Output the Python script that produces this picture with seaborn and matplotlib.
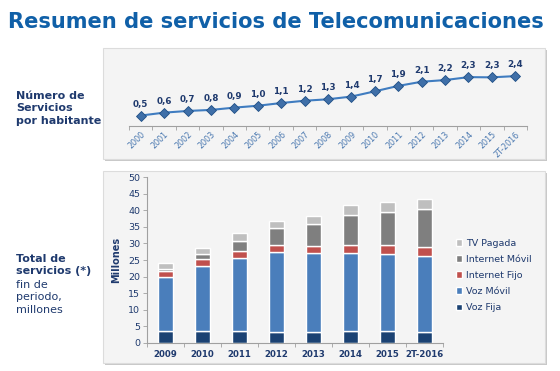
import matplotlib
matplotlib.use("Agg")
import matplotlib.pyplot as plt
from matplotlib.patches import Rectangle
import seaborn as sns
import pandas as pd
import numpy as np

# ---- data ----
line_years = ["2000", "2001", "2002", "2003", "2004", "2005", "2006", "2007", "2008",
              "2009", "2010", "2011", "2012", "2013", "2014", "2015", "2T-2016"]
line_values = [0.50, 0.64, 0.72, 0.77, 0.88, 0.97, 1.10, 1.21, 1.28, 1.41, 1.66,
               1.92, 2.12, 2.20, 2.34, 2.33, 2.39]

bar_years = ["2009", "2010", "2011", "2012", "2013", "2014", "2015", "2T-2016"]
voz_fija = [3.6, 3.6, 3.4, 3.3, 3.3, 3.4, 3.4, 3.3]
voz_movil = [16.4, 19.7, 22.3, 24.0, 23.7, 23.8, 23.3, 22.9]
internet_fijo = [1.7, 1.9, 2.0, 2.2, 2.3, 2.4, 2.8, 2.8]
internet_movil = [0.7, 1.5, 3.0, 5.1, 6.5, 9.0, 10.0, 11.4]
tv_pagada = [1.7, 2.0, 2.4, 2.2, 2.5, 3.0, 3.1, 3.1]

series_names = ["Voz Fija", "Voz Móvil", "Internet Fijo", "Internet Móvil", "TV Pagada"]
series_values = [voz_fija, voz_movil, internet_fijo, internet_movil, tv_pagada]
series_colors = ["#1b4273", "#4a7ebb", "#c0504d", "#7f7f7f", "#bfbfbf"]

sns.set_theme(style="white")
plt.rcParams['font.family'] = ['DejaVu Sans']

W, H = 560, 371
fig = plt.figure(figsize=(W / 100, H / 100), dpi=100)
fig.patch.set_facecolor("white")

def fx(px):
    return px / W

def fy(py):
    return 1 - py / H

navy = "#1f3a6e"
tick_blue = "#1f3a6e"

# Panels (shadow + box)
for (x0, y0, x1, y1) in [(103, 48, 545, 159), (103, 171, 545, 363)]:
    fig.patches.append(Rectangle((fx(x0 + 2), fy(y1 + 2)), fx(x1 - x0), (y1 - y0) / H,
                                 transform=fig.transFigure, facecolor="#c8c8c8",
                                 edgecolor="none", zorder=-3))
    fig.patches.append(Rectangle((fx(x0), fy(y1)), fx(x1 - x0), (y1 - y0) / H,
                                 transform=fig.transFigure, facecolor="#f4f4f4",
                                 edgecolor="#dcdcdc", linewidth=0.8, zorder=-2))

# Title
fig.text(fx(8), fy(22), "Resumen de servicios de Telecomunicaciones", fontsize=15.1,
         fontweight="bold", color="#1060a8", va="center", ha="left")

# Left labels
fig.text(fx(16), fy(91), "Número de\nServicios\npor habitante", fontsize=8,
         fontweight="bold", color=navy, va="top", ha="left", linespacing=1.3)
fig.text(fx(16), fy(254), "Total de\nservicios (*)", fontsize=8,
         fontweight="bold", color=navy, va="top", ha="left", linespacing=1.3)
fig.text(fx(16), fy(280), "fin de\nperiodo,\nmillones", fontsize=8,
         color=navy, va="top", ha="left", linespacing=1.3)

# ---- line chart ----
ax1 = fig.add_axes([fx(129), fy(126), fx(527 - 129), (126 - 55) / H])
ax1.set_facecolor("none")
df_line = pd.DataFrame({"year": line_years, "value": line_values})
df_line["x"] = np.arange(len(line_years))
sns.lineplot(data=df_line, x="x", y="value", ax=ax1, color="#3f7cc0", linewidth=1.5,
             marker="D", markersize=5, markerfacecolor="#3f6fa8",
             markeredgecolor="#1f4f86", markeredgewidth=0.6)
for xi, v in zip(df_line["x"], line_values):
    ax1.annotate(f"{v:.1f}".replace(".", ","), (xi, v), xytext=(0, 5),
                 textcoords="offset points", ha="center", va="bottom",
                 fontsize=6.3, fontweight="bold", color="#1f3a6e")
ax1.set_xlim(-0.5, len(line_years) - 0.5)
ax1.set_ylim(0, 3.4)
ax1.set_xticks(df_line["x"])
ax1.set_xticklabels(line_years, rotation=45, ha="right", rotation_mode="anchor",
                    fontsize=5.8, color="#4a78b0")
ax1.set_xticks(np.arange(-0.5, len(line_years), 1), minor=True)
ax1.tick_params(axis="x", which="major", length=0, pad=3)
ax1.tick_params(axis="x", which="minor", length=3, color="#a0a0a0", width=0.6,
                direction="out", bottom=True)
ax1.set_yticks([])
ax1.set_xlabel("")
ax1.set_ylabel("")
for s in ["top", "right", "left"]:
    ax1.spines[s].set_visible(False)
ax1.spines["bottom"].set_color("#a0a0a0")
ax1.spines["bottom"].set_linewidth(0.8)

# ---- stacked bar chart ----
ax2 = fig.add_axes([fx(147), fy(342.7), fx(443 - 147), (342.7 - 177.3) / H])
ax2.set_facecolor("none")
bottom = np.zeros(len(bar_years))
for name, vals, col in zip(series_names, series_values, series_colors):
    df = pd.DataFrame({"year": bar_years, "value": np.array(vals)})
    sns.barplot(data=df, x="year", y="value", ax=ax2, color=col, width=0.42,
                saturation=1, label=name, bottom=bottom)
    bottom = bottom + np.array(vals)

ax2.set_ylim(0, 50)
ax2.set_xlim(-0.5, len(bar_years) - 0.5)
ax2.set_yticks(range(0, 51, 5))
ax2.tick_params(axis="y", labelsize=6.8, labelcolor=tick_blue, length=3,
                color="#a0a0a0", width=0.6, direction="out", pad=2, left=True)
ax2.set_xticks(range(len(bar_years)))
ax2.set_xticklabels(bar_years, fontsize=6.2, fontweight="bold", color=tick_blue)
ax2.set_xticks(np.arange(-0.5, len(bar_years), 1), minor=True)
ax2.tick_params(axis="x", which="major", length=0, pad=5)
ax2.tick_params(axis="x", which="minor", length=3, color="#a0a0a0", width=0.6,
                direction="out", bottom=True)
ax2.set_xlabel("")
ax2.set_ylabel("Millones", fontsize=7, fontweight="bold", color=navy, labelpad=5)
for s in ["top", "right"]:
    ax2.spines[s].set_visible(False)
for s in ["left", "bottom"]:
    ax2.spines[s].set_color("#a0a0a0")
    ax2.spines[s].set_linewidth(0.8)

h, l = ax2.get_legend_handles_labels()
leg = ax2.legend(h[::-1], l[::-1], loc="upper left",
                 bbox_to_anchor=(fx(452), fy(235)), bbox_transform=fig.transFigure,
                 frameon=False, fontsize=6.8, handlelength=0.7, handleheight=0.7,
                 handletextpad=0.4, labelspacing=0.75, borderaxespad=0)
for t in leg.get_texts():
    t.set_color(navy)

fig.savefig("out.png", dpi=100, facecolor="white")
